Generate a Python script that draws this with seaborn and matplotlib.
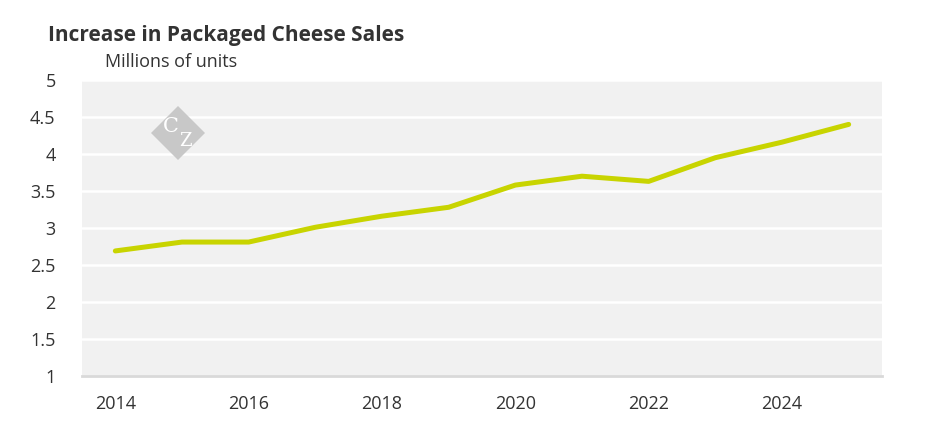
import pandas as pd
import numpy as np
import matplotlib.pyplot as plt
import seaborn as sns

# -----------------------------
# Data
# -----------------------------
years = ["2014", "2015", "2016", "2017", "2018", "2019",
         "2020", "2021", "2022", "2023", "2024", "2025"]
sales = [2.69, 2.81, 2.81, 3.01, 3.16, 3.28,
         3.58, 3.70, 3.63, 3.95, 4.16, 4.40]
y_ticks = [1, 1.5, 2, 2.5, 3, 3.5, 4, 4.5, 5]
y_labels = ["1", "1.5", "2", "2.5", "3", "3.5", "4", "4.5", "5"]

df = pd.DataFrame({"Year": years, "Sales": sales})

# -----------------------------
# Plot
# -----------------------------
sns.set_style("white")
plt.rcParams["font.family"] = ["Open Sans", "DejaVu Sans"]

fig = plt.figure(figsize=(9.45, 4.43), dpi=100)
ax = fig.add_axes([82 / 945, 1 - 376 / 443, 800 / 945, 296 / 443])
ax.set_facecolor("#f1f1f1")

sns.lineplot(data=df, x="Year", y="Sales", ax=ax, color="#c8d400",
             linewidth=3.6, solid_capstyle="round", sort=False)

ax.set_xlim(-0.5, len(years) - 0.5)
ax.set_ylim(1, 5)

# horizontal white grid
ax.set_yticks(y_ticks)
ax.set_yticklabels(y_labels, fontsize=13, color="#333333")
ax.yaxis.grid(True, color="white", linewidth=1.8)
ax.xaxis.grid(False)
ax.set_axisbelow(True)
ax.tick_params(axis="y", length=0, pad=19)

# x axis: labels every other year, ticks on category boundaries
pos = np.arange(len(years))
ax.set_xticks(pos[::2])
ax.set_xticklabels(years[::2], fontsize=13, color="#333333")
ax.set_xticks(np.arange(len(years) + 1) - 0.5, minor=True)
ax.tick_params(axis="x", which="major", length=0, pad=14)
ax.tick_params(axis="x", which="minor", length=6, width=1.2, color="#d9d9d9")

for s in ["top", "right", "left"]:
    ax.spines[s].set_visible(False)
ax.spines["bottom"].set_color("#d9d9d9")
ax.spines["bottom"].set_linewidth(2)

ax.set_xlabel("")
ax.set_ylabel("")

# watermark logo
ax.plot([0.12], [0.821], marker="D", markersize=28, color="#c8c8c8",
        markeredgewidth=0, transform=ax.transAxes, zorder=1, clip_on=False)
ax.text(0.111, 0.843, "C", transform=ax.transAxes, family="serif",
        fontsize=15, color="white", ha="center", va="center", zorder=2)
ax.text(0.129, 0.795, "Z", transform=ax.transAxes, family="serif",
        fontsize=13, color="white", ha="center", va="center", zorder=2)

# titles
fig.text(48 / 945, 1 - 35 / 443, "Increase in Packaged Cheese Sales",
         fontsize=15, fontweight="bold", color="#333333", va="center")
fig.text(105 / 945, 1 - 62 / 443, "Millions of units",
         fontsize=13, color="#333333", va="center")

plt.savefig("out.png", dpi=100)
